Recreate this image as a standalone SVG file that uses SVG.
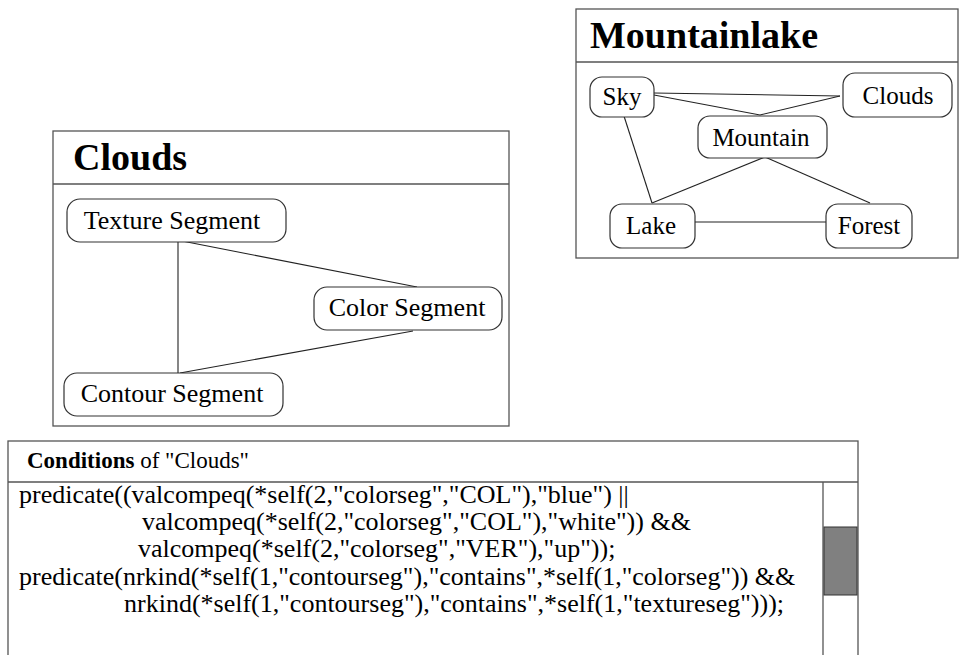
<svg xmlns="http://www.w3.org/2000/svg" width="961" height="655" viewBox="0 0 961 655">
<style>
.panel{fill:#fff;stroke:#555;stroke-width:1.3}
.div{stroke:#555;stroke-width:1.3}
.node{fill:#fff;stroke:#333;stroke-width:1.2}
.title{font-family:"Liberation Serif","Times New Roman",serif;font-weight:bold;font-size:38px;fill:#000}
.lbl{font-family:"Liberation Serif","Times New Roman",serif;font-size:25px;fill:#000;text-anchor:middle}
.code{font-family:"Liberation Serif","Times New Roman",serif;font-size:26px;fill:#000}
.edge{stroke:#222;stroke-width:1.1;fill:none}
</style>
<rect width="961" height="655" fill="#fff"/>

<g id="mountainlake-panel">
<rect class="panel" x="576" y="9" width="382" height="249"/>
<line class="div" x1="576" y1="62" x2="958" y2="62"/>
<text class="title" x="590" y="48">Mountainlake</text>
</g>

<g id="clouds-panel">
<rect class="panel" x="53" y="131" width="456" height="295"/>
<line class="div" x1="53" y1="184" x2="509" y2="184"/>
<text class="title" x="73" y="170">Clouds</text>
</g>

<g id="connectors">
<line class="edge" x1="654" y1="93" x2="840" y2="96"/>
<polyline class="edge" points="654,95 760,115 840,96"/>
<line class="edge" x1="623" y1="113" x2="652" y2="203"/>
<line class="edge" x1="765" y1="157" x2="652" y2="203"/>
<line class="edge" x1="765" y1="157" x2="870" y2="203"/>
<line class="edge" x1="695" y1="222" x2="826" y2="222"/>
<line class="edge" x1="178" y1="241" x2="178" y2="373"/>
<line class="edge" x1="182" y1="241" x2="417" y2="287"/>
<line class="edge" x1="180" y1="373" x2="413" y2="331"/>
</g>

<g id="sky"><rect class="node" x="590" y="77" width="64" height="40" rx="12"/><text class="lbl" x="622" y="105">Sky</text></g>
<g id="clouds"><rect class="node" x="843" y="73" width="109" height="44" rx="12"/><text class="lbl" x="898" y="104">Clouds</text></g>
<g id="mountain"><rect class="node" x="698" y="116" width="129" height="42" rx="12"/><text class="lbl" x="761" y="146">Mountain</text></g>
<g id="lake"><rect class="node" x="610" y="204" width="85" height="44" rx="12"/><text class="lbl" x="651" y="234">Lake</text></g>
<g id="forest"><rect class="node" x="826" y="204" width="86" height="44" rx="12"/><text class="lbl" x="869" y="234">Forest</text></g>

<g id="texture-segment"><rect class="node" x="67" y="199" width="219" height="43" rx="13"/><text class="lbl" x="172" y="229" style="font-size:26px">Texture Segment</text></g>
<g id="color-segment"><rect class="node" x="314" y="287" width="188" height="43" rx="13"/><text class="lbl" x="407" y="316" style="font-size:26px">Color Segment</text></g>
<g id="contour-segment"><rect class="node" x="64" y="373" width="219" height="43" rx="13"/><text class="lbl" x="172" y="402" style="font-size:26px">Contour Segment</text></g>

<g id="conditions-panel">
<rect class="panel" x="8" y="441" width="850" height="230"/>
<line class="div" x1="8" y1="482" x2="858" y2="482"/>
<line class="div" x1="823" y1="482" x2="823" y2="655"/>
<rect x="824" y="527" width="33" height="68" fill="#808080" stroke="#333" stroke-width="1"/>
<text x="27" y="468" style="font-family:'Liberation Serif','Times New Roman',serif;font-size:23px"><tspan font-weight="bold">Conditions</tspan>  of "Clouds"</text>
<text class="code" x="19" y="503">predicate((valcompeq(*self(2,"colorseg","COL"),"blue") ||</text>
<text class="code" x="142" y="530">valcompeq(*self(2,"colorseg","COL"),"white")) &amp;&amp;</text>
<text class="code" x="138" y="557">valcompeq(*self(2,"colorseg","VER"),"up"));</text>
<text class="code" x="19" y="585">predicate(nrkind(*self(1,"contourseg"),"contains",*self(1,"colorseg")) &amp;&amp;</text>
<text class="code" x="124" y="612">nrkind(*self(1,"contourseg"),"contains",*self(1,"textureseg")));</text>
</g>
</svg>
